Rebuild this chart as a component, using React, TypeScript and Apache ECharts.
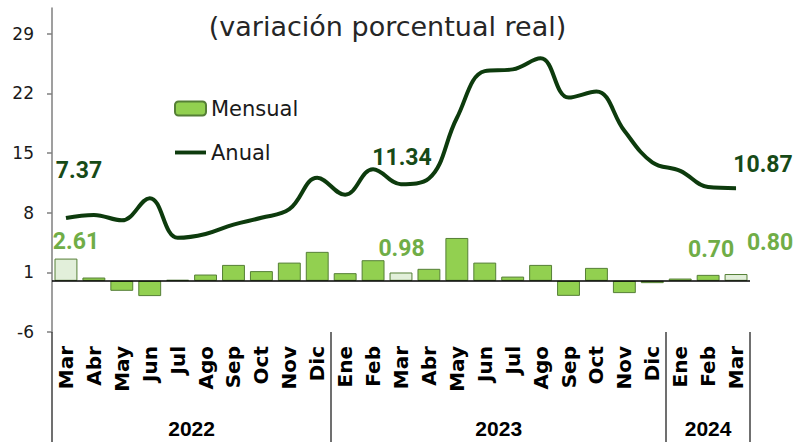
import React, { useEffect, useRef } from "react";
import * as echarts from "echarts";

const months = ["Mar", "Abr", "May", "Jun", "Jul", "Ago", "Sep", "Oct", "Nov", "Dic", "Ene", "Feb", "Mar", "Abr", "May", "Jun", "Jul", "Ago", "Sep", "Oct", "Nov", "Dic", "Ene", "Feb", "Mar"];
const years = ["2022", "2023", "2024"];
const monthsPerYear = [10, 12, 3];
const mensual = [2.61, 0.39, -1.17, -1.79, 0.12, 0.74, 1.87, 1.14, 2.14, 3.4, 0.9, 2.42, 0.98, 1.41, 5.03, 2.14, 0.5, 1.87, -1.76, 1.52, -1.44, -0.27, 0.27, 0.7, 0.8];
const anual = [7.37, 7.73, 7.1, 9.7, 5.05, 5.5, 6.6, 7.4, 8.4, 12.1, 10.1, 13.1, 11.34, 12.0, 19.1, 24.6, 24.8, 26.1, 21.5, 22.2, 17.6, 13.9, 12.9, 11.0, 10.87];
const yTicks = [-6, 1, 8, 15, 22, 29];
const highlightedBars = [0, 12, 24];
const labeledBars = [0, 12, 23, 24];
const labeledLine = [0, 12, 24];
const titleText = "(variación porcentual real)";

// label placement (style only)
const barLabelOffsets: Record<number, number[]> = { 0: [10, -17], 12: [0.5, -24], 23: [3, -25], 24: [34, -32] };
const lineLabelOffsets: Record<number, number[]> = { 0: [13, -48], 12: [1, -27], 24: [27, -24] };

const BAR_GREEN = "#92D050";
const BAR_LIGHT = "#E2EFDA";
const BAR_BORDER = "#557f36";
const LINE_GREEN = "#0d3b0d";
const LINE_LABEL = "#174a17";
const BAR_LABEL = "#70AD47";

export default function App() {
  const ref = useRef<HTMLDivElement>(null);
  useEffect(() => {
    if (!ref.current) return;
    const chart = echarts.init(ref.current, null, { renderer: "svg" });

    const boundaries: number[] = [0];
    const centers: number[] = [];
    monthsPerYear.forEach((n) => {
      const start = boundaries[boundaries.length - 1];
      centers.push(start + n / 2);
      boundaries.push(start + n);
    });

    chart.setOption({
      animation: false,
      grid: { left: 52, right: 59, top: 8, bottom: 110, containLabel: false },
      graphic: [
        {
          type: "text",
          x: 387.5,
          y: 26,
          style: {
            text: titleText,
            fontSize: 27,
            fontFamily: "DejaVu Sans",
            fill: "#262626",
            align: "center",
            verticalAlign: "middle",
            textAlign: "center",
            textVerticalAlign: "middle",
          },
        },
      ],
      legend: {
        orient: "vertical",
        left: 174,
        top: 98,
        padding: 0,
        itemWidth: 31,
        itemHeight: 14,
        itemGap: 23,
        selectedMode: false,
        data: [
          { name: "Mensual" },
          {
            name: "Anual",
            icon: "path://M0,0H32V4H0Z",
            itemStyle: { color: LINE_GREEN, borderWidth: 0 },
          },
        ],
        textStyle: { fontSize: 21, fontFamily: "DejaVu Sans", color: "#1a1a1a" },
      },
      xAxis: [
        {
          type: "category",
          data: months,
          position: "bottom",
          axisLine: { show: false },
          axisTick: { show: false },
          splitLine: { show: false },
          axisLabel: {
            interval: 0,
            rotate: 90,
            margin: 14,
            fontSize: 20,
            fontWeight: "bold",
            fontFamily: "DejaVu Sans",
            color: "#000",
          },
        },
        {
          type: "value",
          min: 0,
          max: boundaries[boundaries.length - 1],
          position: "bottom",
          axisLine: { show: false },
          splitLine: { show: false },
          axisTick: {
            show: true,
            customValues: boundaries,
            length: 110,
            lineStyle: { color: "#404040", width: 1.5 },
          },
          axisLabel: {
            customValues: centers,
            formatter: (v: number) => {
              const idx = centers.findIndex((c) => Math.abs(c - v) < 1e-6);
              return idx >= 0 ? years[idx] : "";
            },
            margin: 96,
            verticalAlign: "middle",
            fontSize: 21,
            fontWeight: "bold",
            fontFamily: "Liberation Sans",
            color: "#000",
          },
        },
      ],
      yAxis: {
        type: "value",
        min: -6,
        max: 32,
        splitLine: { show: false },
        axisLine: { show: true, lineStyle: { color: "#7f7f7f", width: 1.5 } },
        axisTick: { show: true, customValues: yTicks, length: 5, lineStyle: { color: "#7f7f7f", width: 1.5 } },
        axisLabel: {
          customValues: yTicks,
          margin: 18,
          fontSize: 17,
          fontFamily: "DejaVu Sans",
          color: "#1a1a1a",
        },
      },
      series: [
        {
          name: "Mensual",
          type: "bar",
          xAxisIndex: 0,
          barCategoryGap: "18%",
          itemStyle: { color: BAR_GREEN, borderColor: BAR_BORDER, borderWidth: 1 },
          data: mensual.map((v, i) => {
            const item: any = { value: v };
            if (highlightedBars.includes(i)) item.itemStyle = { color: BAR_LIGHT };
            if (labeledBars.includes(i)) {
              item.label = {
                show: true,
                position: "top",
                distance: 0,
                offset: barLabelOffsets[i],
                align: "center",
                verticalAlign: "middle",
                formatter: () => v.toFixed(2),
                fontSize: 23,
                fontWeight: "bold",
                fontFamily: "Roboto",
                color: BAR_LABEL,
              };
            }
            return item;
          }),
          markLine: {
            silent: true,
            symbol: ["none", "none"],
            label: { show: false },
            lineStyle: { color: "#000", width: 1.5, type: "solid" },
            data: [{ yAxis: 0 }],
          },
        },
        {
          name: "Anual",
          type: "line",
          xAxisIndex: 0,
          smooth: 0.4,
          symbol: "none",
          lineStyle: { color: LINE_GREEN, width: 4 },
          itemStyle: { color: LINE_GREEN },
          data: anual,
          z: 5,
          markPoint: {
            symbol: "circle",
            symbolSize: 0,
            silent: true,
            data: labeledLine.map((i) => ({
              coord: [i, anual[i]],
              value: anual[i],
              label: { offset: lineLabelOffsets[i] },
            })),
            label: {
              show: true,
              position: "inside",
              align: "center",
              verticalAlign: "middle",
              formatter: (p: any) => Number(p.value).toFixed(2),
              fontSize: 23,
              fontWeight: "bold",
              fontFamily: "Roboto",
              color: LINE_LABEL,
            },
          },
        },
      ],
    });

    return () => chart.dispose();
  }, []);

  return (
    <div
      ref={ref}
      style={{ position: "fixed", left: 0, top: 0, width: 809, height: 442, background: "#fff" }}
    />
  );
}
